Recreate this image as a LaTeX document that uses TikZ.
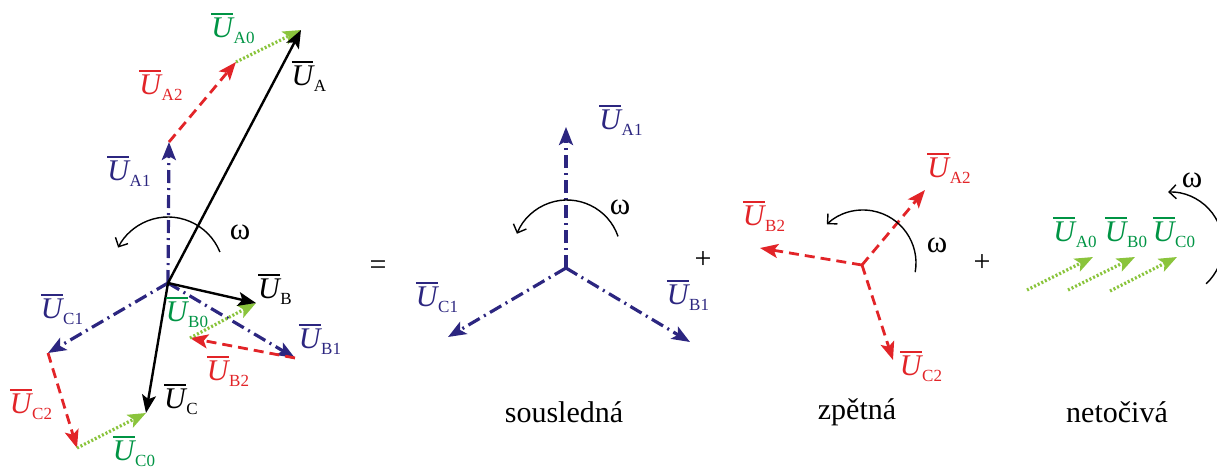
\documentclass[tikz,border=0pt]{standalone}
\usepackage{amsmath}
\usepackage{fontspec}
\setmainfont{Liberation Serif}
\usetikzlibrary{arrows.meta}

\definecolor{posblue}{RGB}{44,38,128}
\definecolor{negred}{RGB}{226,36,40}
\definecolor{zerolime}{RGB}{138,196,60}
\definecolor{zerogreen}{RGB}{0,148,68}

\newcommand{\phasor}[1]{$\overline{\mbox{\itshape U}}$\kern0.3pt\raisebox{-3pt}{\fontsize{8.5}{9}\selectfont #1}}

\begin{document}
\begin{tikzpicture}[x=0.5pt, y=0.5pt,
  resvec/.style={-{Stealth[length=9pt,width=7pt,inset=2pt]}, line width=1.2pt, color=black},
  posseq/.style={-{Stealth[length=9pt,width=7pt,inset=2pt]}, line width=1.6pt, color=posblue, dash pattern=on 6.5pt off 2.5pt on 1pt off 2.5pt},
  negseq/.style={-{Stealth[length=9pt,width=7pt,inset=2pt]}, line width=1.4pt, color=negred, dash pattern=on 5pt off 3pt},
  zerseq/.style={-{Stealth[length=9pt,width=7pt,inset=2pt]}, line width=1.6pt, color=zerolime, dash pattern=on 1pt off 1pt},
  rotarc/.style={-{Straight Barb[length=3.5pt,width=7pt]}, line width=0.7pt},
  lbl/.style={font=\fontsize{15}{18}\selectfont, inner sep=0pt},
  captxt/.style={font=\fontsize{15}{18}\selectfont, inner sep=0pt},
  omtxt/.style={font=\fontsize{15.5}{18}\selectfont, inner sep=0pt},
]
\useasboundingbox (0,0) rectangle (1217,468);

% ─── Left: unbalanced phasors as sums of components ───
\coordinate (oL) at (168,185);
\coordinate (aL) at (301,438);
\coordinate (bL) at (256,165);
\coordinate (cL) at (146,55);
\coordinate (a1L) at (169,326);
\coordinate (b1L) at (295,110);
\coordinate (c1L) at (48,115);
\coordinate (a2L) at (236,406);
\coordinate (b2L) at (190,130);
\coordinate (c2L) at (77,20);
\draw[posseq] (oL) -- (a1L);
\draw[posseq] (oL) -- (b1L);
\draw[posseq] (oL) -- (c1L);
\draw[negseq] (a1L) -- (a2L);
\draw[negseq] (b1L) -- (b2L);
\draw[negseq] (c1L) -- (c2L);
\draw[zerseq] (a2L) -- (aL);
\draw[zerseq] (b2L) -- (bL);
\draw[zerseq] (c2L) -- (cL);
\draw[resvec] (oL) -- (aL);
\draw[resvec] (oL) -- (bL);
\draw[resvec] (oL) -- (cL);
\coordinate (rL) at (168,195);
\draw[rotarc] ([shift={(22:28pt)}]rL) arc[start angle=22, end angle=153, radius=28pt];
\node[omtxt] (wL) at (240,236) {ω};
\node[lbl] (lA) at (309,392) {\phasor{A}};
\node[lbl] (lB) at (275,179) {\phasor{B}};
\node[lbl] (lC) at (181,69) {\phasor{C}};
\node[lbl, color=posblue] (lA1L) at (129,297) {\phasor{A1}};
\node[lbl, color=posblue] (lB1L) at (320,129) {\phasor{B1}};
\node[lbl, color=posblue] (lC1L) at (62,159) {\phasor{C1}};
\node[lbl, color=negred] (lA2L) at (161,383) {\phasor{A2}};
\node[lbl, color=negred] (lB2L) at (228,97) {\phasor{B2}};
\node[lbl, color=negred] (lC2L) at (31,64) {\phasor{C2}};
\node[lbl, color=zerogreen] (lA0L) at (233,440) {\phasor{A0}};
\node[lbl, color=zerogreen] (lB0L) at (187,156) {\phasor{B0}};
\node[lbl, color=zerogreen] (lC0L) at (134,17) {\phasor{C0}};

\node[captxt] (eq) at (378,200) {=};

% ─── Positive sequence ───
\coordinate (oP) at (566,200);
\coordinate (aP) at (566,341);
\coordinate (bP) at (690,126);
\coordinate (cP) at (448,131);
\draw[posseq] (oP) -- (aP);
\draw[posseq] (oP) -- (bP);
\draw[posseq] (oP) -- (cP);
\coordinate (rP) at (567,214);
\draw[rotarc] ([shift={(19:27pt)}]rP) arc[start angle=19, end angle=158, radius=27pt];
\node[omtxt] (wP) at (620,261) {ω};
\node[lbl, color=posblue] (lA1) at (621,348) {\phasor{A1}};
\node[lbl, color=posblue] (lB1) at (688,173) {\phasor{B1}};
\node[lbl, color=posblue] (lC1) at (437,171) {\phasor{C1}};
\node[captxt] (capP) at (564,56) {sousledná};

\node[captxt] (plus1) at (703,208) {+};

% ─── Negative sequence ───
\coordinate (oN) at (862,203);
\coordinate (aN) at (925,278);
\coordinate (bN) at (760,220);
\coordinate (cN) at (893,108);
\draw[negseq] (oN) -- (aN);
\draw[negseq] (oN) -- (bN);
\draw[negseq] (oN) -- (cN);
\coordinate (rN) at (863,205);
\draw[rotarc] ([shift={(-10:26.5pt)}]rN) arc[start angle=-10, end angle=133, radius=26.5pt];
\node[omtxt] (wN) at (937,223) {ω};
\node[lbl, color=negred] (lA2) at (949,300) {\phasor{A2}};
\node[lbl, color=negred] (lB2) at (764,252) {\phasor{B2}};
\node[lbl, color=negred] (lC2) at (921,102) {\phasor{C2}};
\node[captxt] (capN) at (857,56) {zpětná};

\node[captxt] (plus2) at (982,205) {+};

% ─── Zero sequence ───
\coordinate (sA) at (1027,178);
\coordinate (tA) at (1093,211);
\coordinate (sB) at (1068,178);
\coordinate (tB) at (1135,211);
\coordinate (sC) at (1110,177);
\coordinate (tC) at (1177,211);
\draw[zerseq] (sA) -- (tA);
\draw[zerseq] (sB) -- (tB);
\draw[zerseq] (sC) -- (tC);
\node[lbl, color=zerogreen] (lA0) at (1075,236) {\phasor{A0}};
\node[lbl, color=zerogreen] (lB0) at (1126,236) {\phasor{B0}};
\node[lbl, color=zerogreen] (lC0) at (1174,236) {\phasor{C0}};
\begin{scope}
  \clip (0,0) rectangle (1217,468);
  \coordinate (rZ) at (1170,223);
  \draw[rotarc] ([shift={(-47:26.5pt)}]rZ) arc[start angle=-47, end angle=92, radius=26.5pt];
\end{scope}
\node[omtxt] (wZ) at (1192,288) {ω};
\node[captxt] (capZ) at (1117,56) {netočivá};

\end{tikzpicture}
\end{document}
